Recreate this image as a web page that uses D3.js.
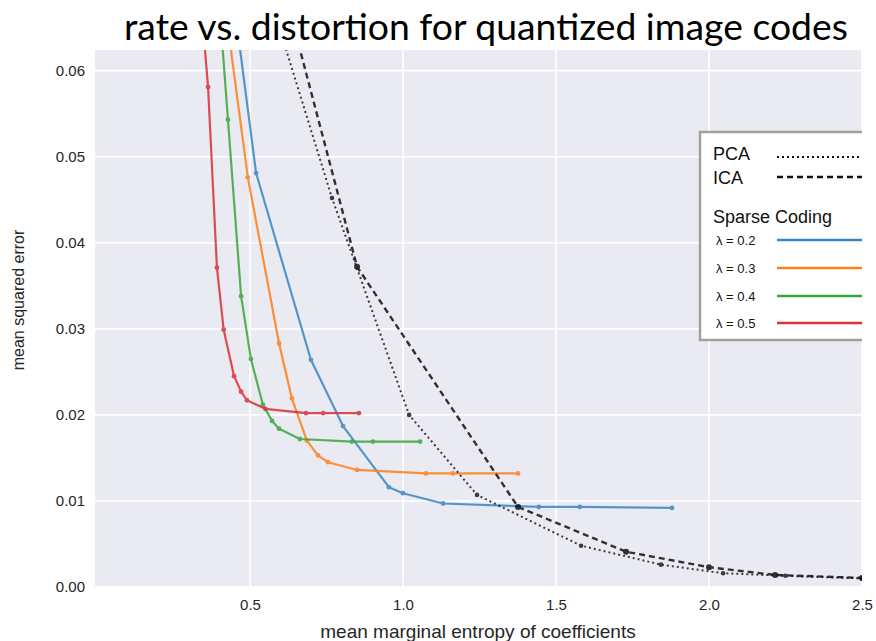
<!DOCTYPE html>
<html>
<head>
<meta charset="utf-8">
<script src="https://cdn.jsdelivr.net/npm/d3@7"></script>
<style>
  html, body { margin: 0; padding: 0; background: #ffffff; }
  svg { display: block; }
</style>
</head>
<body>
<svg id="chart" width="876" height="641"></svg>
<script>
// Rate (mean marginal entropy) vs. distortion (MSE) for several coding schemes
const xTicks = [0.5, 1.0, 1.5, 2.0, 2.5];
const yTicks = [0.00, 0.01, 0.02, 0.03, 0.04, 0.05, 0.06];

const pcaRate = [0.54, 0.768, 1.02, 1.242, 1.582, 1.843, 2.046, 2.25, 2.5];
const pcaMse  = [0.0714, 0.0452, 0.0200, 0.0107, 0.0048, 0.0026, 0.0016, 0.0013, 0.0010];

const icaRate = [0.60, 0.850, 1.376, 1.729, 2.000, 2.216, 2.5];
const icaMse  = [0.0710, 0.0372, 0.0093, 0.0041, 0.0023, 0.0014, 0.00105];

const sc02Rate = [0.44, 0.520, 0.699, 0.804, 0.954, 1.000, 1.131, 1.444, 1.578, 1.879];
const sc02Mse  = [0.0700, 0.0481, 0.0264, 0.0187, 0.0116, 0.0109, 0.0097, 0.0093, 0.0093, 0.0092];

const sc03Rate = [0.40, 0.493, 0.595, 0.637, 0.686, 0.722, 0.755, 0.850, 1.075, 1.163, 1.376];
const sc03Mse  = [0.0725, 0.0476, 0.0283, 0.0219, 0.0170, 0.0153, 0.0145, 0.0136, 0.0132, 0.0132, 0.0132];

const sc04Rate = [0.374, 0.428, 0.471, 0.503, 0.542, 0.572, 0.595, 0.663, 0.833, 0.902, 1.056];
const sc04Mse  = [0.0800, 0.0543, 0.0338, 0.0265, 0.0212, 0.0193, 0.0184, 0.0172, 0.0169, 0.0169, 0.0169];

const sc05Rate = [0.312, 0.363, 0.392, 0.414, 0.448, 0.471, 0.490, 0.550, 0.683, 0.739, 0.856];
const sc05Mse  = [0.0800, 0.0581, 0.0371, 0.0299, 0.0245, 0.0227, 0.0217, 0.0207, 0.0202, 0.0202, 0.0202];

const sparseLabels = ["λ = 0.2", "λ = 0.3", "λ = 0.4", "λ = 0.5"];
const sparseColors = ["#3a87c2", "#ff7f1a", "#3aa63a", "#d8313a"];

const zip = (xs, ys) => xs.map((x, i) => ({x, y: ys[i]}));

const svg = d3.select("#chart");
const plot = {left: 95, right: 862, top: 50, bottom: 587};

const x = d3.scaleLinear().domain([-0.0065, 2.5]).range([plot.left, plot.right]);
const y = d3.scaleLinear().domain([0, 0.0624]).range([plot.bottom, plot.top]);

// clip region for the data area
svg.append("defs").append("clipPath").attr("id", "plotClip")
  .append("rect")
  .attr("x", plot.left).attr("y", plot.top)
  .attr("width", plot.right - plot.left).attr("height", plot.bottom - plot.top);

// background
svg.append("rect")
  .attr("x", plot.left).attr("y", plot.top)
  .attr("width", plot.right - plot.left).attr("height", plot.bottom - plot.top)
  .attr("fill", "#eaeaf2");

// grid
const grid = svg.append("g").attr("clip-path", "url(#plotClip)");
grid.selectAll("line.gx").data(xTicks).join("line")
  .attr("x1", d => x(d)).attr("x2", d => x(d))
  .attr("y1", plot.top).attr("y2", plot.bottom)
  .attr("stroke", "#ffffff").attr("stroke-width", 1.6);
grid.selectAll("line.gy").data(yTicks).join("line")
  .attr("y1", d => y(d)).attr("y2", d => y(d))
  .attr("x1", plot.left).attr("x2", plot.right)
  .attr("stroke", "#ffffff").attr("stroke-width", 1.6);

// axes (labels only, no domain line / ticks)
const xAxis = d3.axisBottom(x).tickValues(xTicks).tickFormat(d3.format(".1f")).tickSize(0).tickPadding(12);
const gx = svg.append("g").attr("transform", `translate(0,${plot.bottom})`).call(xAxis);
gx.select(".domain").remove();
gx.selectAll("text").attr("font-family", "Liberation Sans, Arial, sans-serif")
  .attr("font-size", 15).attr("fill", "#262626");

const yAxis = d3.axisLeft(y).tickValues(yTicks).tickFormat(d3.format(".2f")).tickSize(0).tickPadding(10);
const gy = svg.append("g").attr("transform", `translate(${plot.left},0)`).call(yAxis);
gy.select(".domain").remove();
gy.selectAll("text").attr("font-family", "Liberation Sans, Arial, sans-serif")
  .attr("font-size", 15).attr("fill", "#262626");

// axis titles
svg.append("text")
  .attr("x", 478).attr("y", 638)
  .attr("text-anchor", "middle")
  .attr("font-family", "Liberation Sans, Arial, sans-serif")
  .attr("font-size", 19).attr("fill", "#262626")
  .text("mean marginal entropy of coefficients");

svg.append("text")
  .attr("transform", "translate(24,300) rotate(-90)")
  .attr("text-anchor", "middle")
  .attr("font-family", "Liberation Sans, Arial, sans-serif")
  .attr("font-size", 16).attr("fill", "#262626")
  .text("mean squared error");

// title
const title = svg.append("text")
  .attr("x", 486).attr("y", 40)
  .attr("text-anchor", "middle")
  .attr("font-family", "Lato, 'Open Sans', sans-serif")
  .attr("font-size", 38).attr("fill", "#000000")
  .text("rate vs. distortion for quantized image codes");
const tw = title.node().getComputedTextLength();
title.attr("font-size", 38 * 724 / tw);

// data lines
const line = d3.line().x(d => x(d.x)).y(d => y(d.y));
const data = svg.append("g").attr("clip-path", "url(#plotClip)");

const sparseSeries = [
  zip(sc02Rate, sc02Mse), zip(sc03Rate, sc03Mse),
  zip(sc04Rate, sc04Mse), zip(sc05Rate, sc05Mse)
];

sparseSeries.forEach((pts, i) => {
  const g = data.append("g").attr("opacity", 0.85);
  g.append("path").datum(pts).attr("d", line)
    .attr("fill", "none").attr("stroke", sparseColors[i]).attr("stroke-width", 2.2)
    .attr("stroke-linejoin", "round");
  g.selectAll("circle").data(pts).join("circle")
    .attr("cx", d => x(d.x)).attr("cy", d => y(d.y)).attr("r", 2.4)
    .attr("fill", sparseColors[i]);
});

const pcaPts = zip(pcaRate, pcaMse);
const icaPts = zip(icaRate, icaMse);

const pg = data.append("g").attr("opacity", 0.8);
pg.append("path").datum(pcaPts).attr("d", line)
  .attr("fill", "none").attr("stroke", "#111").attr("stroke-width", 2)
  .attr("stroke-dasharray", "2,3");
pg.selectAll("circle").data(pcaPts).join("circle")
  .attr("cx", d => x(d.x)).attr("cy", d => y(d.y)).attr("r", 2.3).attr("fill", "#111");

const ig = data.append("g").attr("opacity", 0.85);
ig.append("path").datum(icaPts).attr("d", line)
  .attr("fill", "none").attr("stroke", "#111").attr("stroke-width", 2.4)
  .attr("stroke-dasharray", "6,4");
ig.selectAll("circle").data(icaPts).join("circle")
  .attr("cx", d => x(d.x)).attr("cy", d => y(d.y)).attr("r", 3).attr("fill", "#111");

// legend (clipped on the right by the axes area)
const leg = svg.append("g").attr("clip-path", "url(#plotClip)");
leg.append("rect")
  .attr("x", 700).attr("y", 132).attr("width", 200).attr("height", 208)
  .attr("fill", "#ffffff").attr("stroke", "#a0a0a0").attr("stroke-width", 2.5);

const legFont = "Liberation Sans, Arial, sans-serif";
const lineX1 = 777, lineX2 = 900;

leg.append("text").attr("x", 713).attr("y", 160).attr("font-family", legFont)
  .attr("font-size", 18).attr("fill", "#111").text("PCA");
leg.append("line").attr("x1", lineX1).attr("x2", lineX2).attr("y1", 157).attr("y2", 157)
  .attr("stroke", "#111").attr("stroke-width", 2).attr("stroke-dasharray", "2,3");

leg.append("text").attr("x", 713).attr("y", 184).attr("font-family", legFont)
  .attr("font-size", 18).attr("fill", "#111").text("ICA");
leg.append("line").attr("x1", lineX1).attr("x2", lineX2).attr("y1", 177).attr("y2", 177)
  .attr("stroke", "#111").attr("stroke-width", 2.4).attr("stroke-dasharray", "6,4");

leg.append("text").attr("x", 713).attr("y", 223).attr("font-family", legFont)
  .attr("font-size", 18).attr("fill", "#111").text("Sparse Coding");

const legY = [240, 268, 296, 323];
sparseLabels.forEach((lab, i) => {
  leg.append("text").attr("x", 716).attr("y", legY[i] + 4.5).attr("font-family", legFont)
    .attr("font-size", 13).attr("fill", "#111").text(lab);
  leg.append("line").attr("x1", lineX1).attr("x2", lineX2).attr("y1", legY[i]).attr("y2", legY[i])
    .attr("stroke", sparseColors[i]).attr("stroke-width", 2.4);
});
</script>
</body>
</html>
